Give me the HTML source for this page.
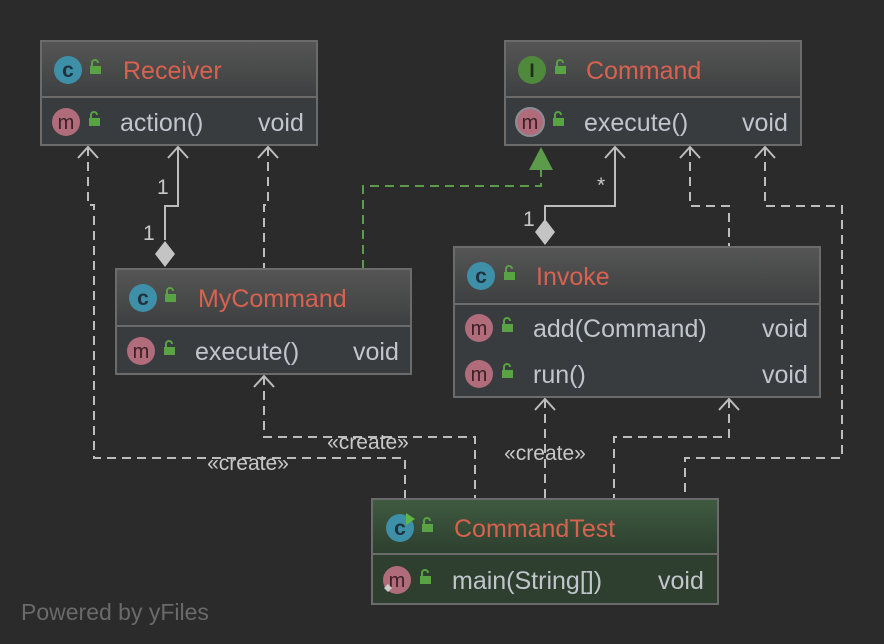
<!DOCTYPE html>
<html><head><meta charset="utf-8"><style>
html,body{margin:0;padding:0;background:#2b2b2b;}
svg{display:block;}
text{font-family:"Liberation Sans","DejaVu Sans",sans-serif;}
</style></head><body>
<svg width="884" height="644" viewBox="0 0 884 644" xmlns="http://www.w3.org/2000/svg">
<defs>
<linearGradient id="hg" x1="0" y1="0" x2="0" y2="1"><stop offset="0" stop-color="#555555"/><stop offset="1" stop-color="#3e3f40"/></linearGradient>
<linearGradient id="gg" x1="0" y1="0" x2="0" y2="1"><stop offset="0" stop-color="#3f5a40"/><stop offset="1" stop-color="#2d3f2e"/></linearGradient>
<g id="lock"><rect x="0" y="5" width="11" height="8" fill="#59a345"/><path d="M2 5 V2 A3 3 0 0 1 8 2" fill="none" stroke="#59a345" stroke-width="2"/></g>
</defs>
<rect width="884" height="644" fill="#2b2b2b"/>

<g fill="none" stroke="#bdbdbd" stroke-width="2">
<g stroke-dasharray="9,6">
<path d="M88 147 V205 H94 V458 H405 V499"/>
<path d="M268 147 V205 H264 V269"/>
<path d="M690 147 V206 H729 V247"/>
<path d="M765 147 V206 H842 V458 H685 V499"/>
<path d="M264 376 V437 H475 V499"/>
<path d="M545 399 V499"/>
<path d="M729 399 V437 H614 V499"/>
</g>
<path d="M178 147 V206 H165 V240"/>
<path d="M615 147 V206 H545 V220"/>
<path d="M78 158 L88 147 L98 158"/>
<path d="M168 158 L178 147 L188 158"/>
<path d="M258 158 L268 147 L278 158"/>
<path d="M605 158 L615 147 L625 158"/>
<path d="M680 158 L690 147 L700 158"/>
<path d="M755 158 L765 147 L775 158"/>
<path d="M254 387 L264 376 L274 387"/>
<path d="M535 410 L545 399 L555 410"/>
<path d="M719 410 L729 399 L739 410"/>
</g>
<path d="M165 241 L175 254 L165 267 L155 254 Z" fill="#c4c4c4"/>
<path d="M545 219 L555 232 L545 245 L535 232 Z" fill="#c4c4c4"/>
<path d="M363 269 V186 H541 V170" fill="none" stroke="#5c9b4a" stroke-width="2" stroke-dasharray="9,6"/>
<path d="M541 147 L553 170 L529 170 Z" fill="#5c9b4a"/>

<g fill="#c8c8c8" font-size="21">
<text x="157" y="194">1</text>
<text x="143" y="240">1</text>
<text x="597" y="192">*</text>
<text x="523" y="226">1</text>
</g>
<g fill="#c8c8c8" font-size="21" text-anchor="middle">
<text x="368" y="449">«create»</text>
<text x="248" y="470">«create»</text>
<text x="545" y="460">«create»</text>
</g>

<!-- Receiver -->
<g>
<rect x="41" y="41" width="276" height="104" fill="#393c3f" stroke="#6b6b6b" stroke-width="2"/>
<rect x="42" y="42" width="274" height="55" fill="url(#hg)"/>
<line x1="41" y1="97" x2="317" y2="97" stroke="#6b6b6b" stroke-width="2"/>
<circle cx="68" cy="70" r="14" fill="#3e8fa8"/><text x="68" y="77" fill="#1e3340" font-size="21" font-weight="bold" text-anchor="middle">c</text>
<use href="#lock" x="90" y="61"/>
<text x="123" y="79" fill="#d8624f" font-size="25">Receiver</text>
<circle cx="66" cy="122" r="14" fill="#b06c7a"/><text x="66" y="129" fill="#3b2026" font-size="20" text-anchor="middle">m</text>
<use href="#lock" x="89" y="113"/>
<text x="120" y="131" fill="#c0c6cc" font-size="25">action()</text>
<text x="258" y="131" fill="#c0c6cc" font-size="25">void</text>
</g>

<!-- Command -->
<g>
<rect x="505" y="41" width="296" height="104" fill="#393c3f" stroke="#6b6b6b" stroke-width="2"/>
<rect x="506" y="42" width="294" height="55" fill="url(#hg)"/>
<line x1="505" y1="97" x2="801" y2="97" stroke="#6b6b6b" stroke-width="2"/>
<circle cx="532" cy="70" r="14" fill="#4f8a3c"/><text x="532" y="77" fill="#1e2f18" font-size="19" font-weight="bold" text-anchor="middle" font-family="Liberation Serif,serif">I</text>
<use href="#lock" x="555" y="61"/>
<text x="586" y="79" fill="#d8624f" font-size="25">Command</text>
<circle cx="530" cy="122" r="14" fill="#b06c7a" stroke="#8a8f95" stroke-width="2"/><text x="530" y="129" fill="#3b2026" font-size="20" text-anchor="middle">m</text>
<use href="#lock" x="553" y="113"/>
<text x="584" y="131" fill="#c0c6cc" font-size="25">execute()</text>
<text x="742" y="131" fill="#c0c6cc" font-size="25">void</text>
</g>

<!-- MyCommand -->
<g>
<rect x="116" y="269" width="295" height="105" fill="#393c3f" stroke="#6b6b6b" stroke-width="2"/>
<rect x="117" y="270" width="293" height="56" fill="url(#hg)"/>
<line x1="116" y1="326" x2="411" y2="326" stroke="#6b6b6b" stroke-width="2"/>
<circle cx="143" cy="298" r="14" fill="#3e8fa8"/><text x="143" y="305" fill="#1e3340" font-size="21" font-weight="bold" text-anchor="middle">c</text>
<use href="#lock" x="165" y="289"/>
<text x="198" y="307" fill="#d8624f" font-size="25">MyCommand</text>
<circle cx="141" cy="351" r="14" fill="#b06c7a"/><text x="141" y="358" fill="#3b2026" font-size="20" text-anchor="middle">m</text>
<use href="#lock" x="164" y="342"/>
<text x="195" y="360" fill="#c0c6cc" font-size="25">execute()</text>
<text x="353" y="360" fill="#c0c6cc" font-size="25">void</text>
</g>

<!-- Invoke -->
<g>
<rect x="454" y="247" width="366" height="150" fill="#393c3f" stroke="#6b6b6b" stroke-width="2"/>
<rect x="455" y="248" width="364" height="56" fill="url(#hg)"/>
<line x1="454" y1="304" x2="820" y2="304" stroke="#6b6b6b" stroke-width="2"/>
<circle cx="481" cy="276" r="14" fill="#3e8fa8"/><text x="481" y="283" fill="#1e3340" font-size="21" font-weight="bold" text-anchor="middle">c</text>
<use href="#lock" x="504" y="267"/>
<text x="536" y="285" fill="#d8624f" font-size="25">Invoke</text>
<circle cx="479" cy="328" r="14" fill="#b06c7a"/><text x="479" y="335" fill="#3b2026" font-size="20" text-anchor="middle">m</text>
<use href="#lock" x="502" y="319"/>
<text x="533" y="337" fill="#c0c6cc" font-size="25">add(Command)</text>
<text x="762" y="337" fill="#c0c6cc" font-size="25">void</text>
<circle cx="479" cy="374" r="14" fill="#b06c7a"/><text x="479" y="381" fill="#3b2026" font-size="20" text-anchor="middle">m</text>
<use href="#lock" x="502" y="365"/>
<text x="533" y="383" fill="#c0c6cc" font-size="25">run()</text>
<text x="762" y="383" fill="#c0c6cc" font-size="25">void</text>
</g>

<!-- CommandTest -->
<g>
<rect x="372" y="499" width="346" height="105" fill="#2e3e2f" stroke="#6b6b6b" stroke-width="2"/>
<rect x="373" y="500" width="344" height="54" fill="url(#gg)"/>
<line x1="372" y1="554" x2="718" y2="554" stroke="#6b6b6b" stroke-width="2"/>
<circle cx="400" cy="528" r="14" fill="#3e8fa8"/><text x="400" y="535" fill="#1e3340" font-size="21" font-weight="bold" text-anchor="middle">c</text>
<path d="M406 513 L415 519 L406 525 Z" fill="#5fb845"/>
<use href="#lock" x="422" y="519"/>
<text x="454" y="537" fill="#d8624f" font-size="25">CommandTest</text>
<circle cx="397" cy="580" r="14" fill="#b06c7a"/><text x="397" y="587" fill="#3b2026" font-size="20" text-anchor="middle">m</text>
<path d="M388 584 L392 588 L388 592 L384 588 Z" fill="#ccc"/>
<use href="#lock" x="420" y="571"/>
<text x="452" y="589" fill="#c0c6cc" font-size="25">main(String[])</text>
<text x="658" y="589" fill="#c0c6cc" font-size="25">void</text>
</g>

<text x="21" y="620" fill="#6a6a6a" font-size="23">Powered by yFiles</text>
</svg>
</body></html>
